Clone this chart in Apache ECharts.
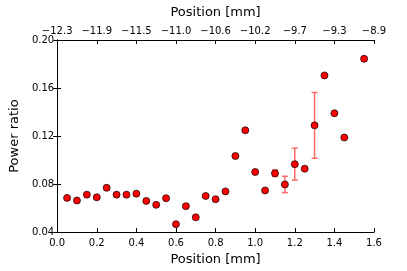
<!DOCTYPE html>
<html>
<head>
<meta charset="utf-8">
<script src="https://cdn.jsdelivr.net/npm/echarts@6/dist/echarts.min.js"></script>
<style>
html,body{margin:0;padding:0;background:#fff;}
#c{width:407px;height:271px;}
</style>
</head>
<body>
<div id="c"></div>
<script>
const positions = [0.05,0.10,0.15,0.20,0.25,0.30,0.35,0.40,0.45,0.50,0.55,0.60,0.65,0.70,0.75,0.80,0.85,0.90,0.95,1.00,1.05,1.10,1.15,1.20,1.25,1.30,1.35,1.40,1.45,1.55];
const ratios = [0.0685,0.0663,0.0712,0.0690,0.0769,0.0712,0.0712,0.0720,0.0660,0.0627,0.0682,0.0466,0.0616,0.0523,0.0701,0.0674,0.0739,0.1034,0.1248,0.0901,0.0747,0.0890,0.0797,0.0966,0.0928,0.1289,0.1705,0.1390,0.1188,0.1844];
const errors = [0.0005,0.0005,0.0005,0.0005,0.0015,0.0005,0.0005,0.0005,0.0005,0.0005,0.0005,0.0015,0.0005,0.0005,0.0005,0.0005,0.0005,0.0005,0.0005,0.0005,0.0005,0.0027,0.0068,0.0133,0.0005,0.0274,0.0010,0.0005,0.0005,0.0017];
const topTickLabels = ["\u221212.3","\u221211.9","\u221211.5","\u221211.0","\u221210.6","\u221210.2","\u22129.7","\u22129.3","\u22128.9"];
const yTicks = {min:0.04, max:0.20, interval:0.04};
const xTicks = {min:0.0, max:1.6, interval:0.2};

const font = 'DejaVu Sans';
const chart = echarts.init(document.getElementById('c'), null, {renderer:'canvas'});

const axisLineStyle = {show:true, lineStyle:{color:'#000', width:1}};
const tickStyle = {show:true, inside:true, length:4, lineStyle:{color:'#000', width:1}};

const points = positions.map((p,i)=>[p, ratios[i]]);
const errData = positions.map((p,i)=>[p, ratios[i]-errors[i], ratios[i]+errors[i]]);

chart.setOption({
  animation:false,
  backgroundColor:'#fff',
  grid:{left:53, right:33, top:40, bottom:36},
  xAxis:[
    {type:'value', position:'bottom', min:xTicks.min, max:xTicks.max, interval:xTicks.interval,
     name:'Position [mm]', nameLocation:'middle', nameGap:19,
     nameTextStyle:{fontFamily:font, fontSize:13, color:'#000'},
     axisLine:axisLineStyle, axisTick:tickStyle, splitLine:{show:false},
     axisLabel:{fontFamily:font, fontSize:10, color:'#000', margin:6, formatter:v=>v.toFixed(1)}},
    {type:'value', position:'top', min:xTicks.min, max:xTicks.max, interval:xTicks.interval,
     name:'Position [mm]', nameLocation:'middle', nameGap:21,
     nameTextStyle:{fontFamily:font, fontSize:13, color:'#000'},
     axisLine:axisLineStyle, axisTick:tickStyle, splitLine:{show:false},
     axisLabel:{fontFamily:font, fontSize:10, color:'#000', margin:4,
       formatter:v=>topTickLabels[Math.round(v/xTicks.interval)]}}
  ],
  yAxis:[
    {type:'value', position:'left', min:yTicks.min, max:yTicks.max, interval:yTicks.interval,
     name:'Power ratio', nameLocation:'middle', nameGap:33,
     nameTextStyle:{fontFamily:font, fontSize:13, color:'#000'},
     axisLine:axisLineStyle, axisTick:tickStyle, splitLine:{show:false},
     axisLabel:{fontFamily:font, fontSize:10, color:'#000', margin:3, formatter:v=>v.toFixed(2)}},
    {type:'value', position:'right', min:yTicks.min, max:yTicks.max, interval:yTicks.interval,
     axisLine:axisLineStyle, axisTick:tickStyle, splitLine:{show:false},
     axisLabel:{show:false}}
  ],
  series:[
    {type:'custom', xAxisIndex:0, yAxisIndex:0, z:2, data:errData,
     renderItem:function(params, api){
       const x = api.value(0);
       const lo = api.coord([x, api.value(1)]);
       const hi = api.coord([x, api.value(2)]);
       const cw = 3;
       const st = {stroke:'#ff6a6a', lineWidth:1.5};
       return {type:'group', children:[
         {type:'line', shape:{x1:lo[0], y1:lo[1], x2:hi[0], y2:hi[1]}, style:st},
         {type:'line', shape:{x1:lo[0]-cw, y1:lo[1], x2:lo[0]+cw, y2:lo[1]}, style:st},
         {type:'line', shape:{x1:hi[0]-cw, y1:hi[1], x2:hi[0]+cw, y2:hi[1]}, style:st}
       ]};
     }},
    {type:'scatter', xAxisIndex:0, yAxisIndex:0, z:3, data:points, symbol:'circle', symbolSize:7,
     itemStyle:{color:'#ff0000', borderColor:'#000', borderWidth:0.7, opacity:1}}
  ]
});
</script>
</body>
</html>
